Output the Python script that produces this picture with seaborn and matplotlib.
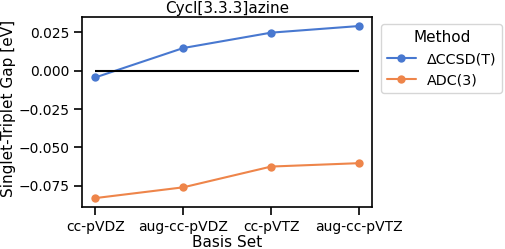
import pandas as pd
import matplotlib
matplotlib.use("Agg")
import matplotlib.pyplot as plt
import seaborn as sns

# Datos
basis = ['cc-pVDZ', 'aug-cc-pVDZ', 'cc-pVTZ', 'aug-cc-pVTZ']
ccsdt = [-0.0044, 0.0147, 0.0247, 0.0290]
adc3 = [-0.0829, -0.0759, -0.0624, -0.0602]
methods = ['ΔCCSD(T)', 'ADC(3)']

df = pd.DataFrame({
    'Basis Set': basis * 2,
    'Gap': ccsdt + adc3,
    'Method': [methods[0]] * len(basis) + [methods[1]] * len(basis),
})

sns.set_theme(style='ticks', palette='muted')
plt.rcParams['font.family'] = ['DejaVu Sans']
plt.rcParams['text.color'] = 'black'
plt.rcParams['axes.labelcolor'] = 'black'
plt.rcParams['xtick.color'] = 'black'
plt.rcParams['ytick.color'] = 'black'

fig, ax = plt.subplots(figsize=(5.05, 2.49), dpi=100)
sns.lineplot(data=df, x='Basis Set', y='Gap', hue='Method', marker='o',
             markersize=6, markeredgewidth=0, linewidth=1.5, ax=ax)
ax.hlines(0, 0, len(basis) - 1, color='black', linewidth=1.5)

ax.set_title('Cycl[3.3.3]azine', fontsize=11, pad=3)
ax.set_xlabel('Basis Set', fontsize=11, labelpad=1)
ax.set_ylabel('Singlet-Triplet Gap [eV]', fontsize=11)
ax.yaxis.set_label_coords(-0.230, 0.52)
ax.set_yticks([0.025, 0.0, -0.025, -0.05, -0.075])
ax.tick_params(labelsize=10, length=6, width=1.2)
for s in ax.spines.values():
    s.set_color('black')
    s.set_linewidth(1.2)

sns.move_legend(ax, 'upper left', bbox_to_anchor=(1.031, 0.963),
                borderaxespad=0, fontsize=10.3, title_fontsize=11,
                labelspacing=0.5)

fig.subplots_adjust(left=0.163, right=0.737, top=0.93, bottom=0.17)
fig.savefig('out.png', dpi=100)
